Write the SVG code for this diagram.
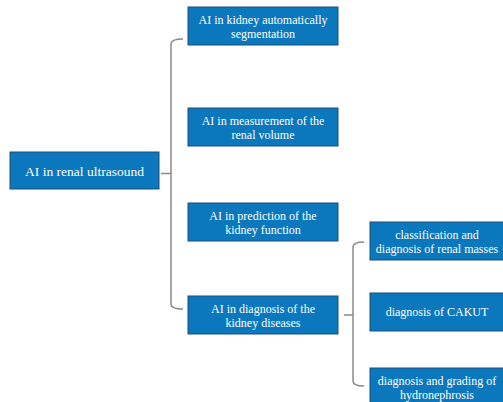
<svg xmlns="http://www.w3.org/2000/svg" width="503" height="402" viewBox="0 0 503 402">
<style>
.box{fill:#0b77bd;stroke:#1c4f7a;stroke-width:1}
.t{font-family:"Liberation Serif","Times New Roman",serif;font-size:12px;fill:#ffffff;text-anchor:middle}
.br{fill:none;stroke:#8a8a8a;stroke-width:1.5}
</style>
<rect width="503" height="402" fill="#ffffff"/>
<g id="connectors">
<path class="br" d="M161 173.5 H171 M183 39 Q171 39 171 44 V304 Q171 309 183 309"/>
<path class="br" d="M344 315 H353 M364 242 Q353 242 353 247 V381 Q353 386 364 386"/>
</g>
<g id="root"><rect class="box" x="10" y="152" width="149" height="37"/><text class="t" x="84.5" y="175.5" style="font-size:13.5px">AI in renal ultrasound</text></g>
<g id="n1"><rect class="box" x="188" y="7" width="150" height="38"/><text class="t" x="263" y="23.5">AI in kidney automatically</text><text class="t" x="263" y="38">segmentation</text></g>
<g id="n2"><rect class="box" x="188" y="108" width="150" height="38"/><text class="t" x="263" y="124.5">AI in measurement of the</text><text class="t" x="263" y="139">renal volume</text></g>
<g id="n3"><rect class="box" x="188" y="203" width="150" height="38"/><text class="t" x="263" y="219.5">AI in prediction of the</text><text class="t" x="263" y="234">kidney function</text></g>
<g id="n4"><rect class="box" x="188" y="296" width="150" height="38"/><text class="t" x="263" y="312.5">AI in diagnosis of the</text><text class="t" x="263" y="327">kidney diseases</text></g>
<g id="c1"><rect class="box" x="370" y="222" width="136" height="38"/><text class="t" x="437" y="238.5">classification and</text><text class="t" x="437" y="253">diagnosis of renal masses</text></g>
<g id="c2"><rect class="box" x="370" y="293" width="136" height="38"/><text class="t" x="437" y="316">diagnosis of CAKUT</text></g>
<g id="c3"><rect class="box" x="370" y="368" width="136" height="38"/><text class="t" x="437" y="384.5">diagnosis and grading of</text><text class="t" x="437" y="399">hydronephrosis</text></g>
</svg>
